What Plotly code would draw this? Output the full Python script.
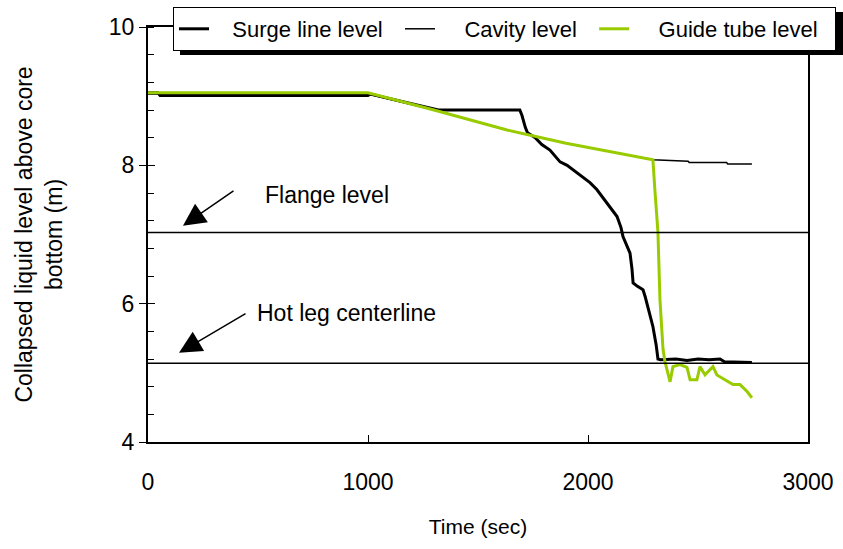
import plotly.graph_objects as go

# ---- data ----
surge_t = [0, 45, 55, 1000, 1010, 1150, 1300, 1320, 1690, 1700, 1715, 1725, 1760, 1790, 1827, 1873, 1905,
           1950, 2009, 2040, 2068, 2100, 2132, 2150, 2159, 2175, 2191, 2200, 2205, 2225, 2250, 2260, 2268,
           2280, 2295, 2310, 2318, 2330, 2400, 2450, 2500, 2550, 2600, 2620, 2650, 2745]
surge_v = [9.05, 9.05, 9.01, 9.01, 9.03, 8.93, 8.82, 8.80, 8.80, 8.72, 8.55, 8.47, 8.40, 8.30, 8.22, 8.05, 8.00,
           7.89, 7.75, 7.65, 7.53, 7.40, 7.26, 7.10, 6.97, 6.85, 6.73, 6.50, 6.30, 6.25, 6.20, 6.10, 6.01,
           5.85, 5.67, 5.40, 5.20, 5.19, 5.20, 5.18, 5.20, 5.19, 5.20, 5.16, 5.16, 5.15]

cavity_t = [0, 1000, 1300, 1632, 1900, 2177, 2295, 2455, 2460, 2630, 2635, 2745]
cavity_v = [9.03, 9.03, 8.80, 8.51, 8.32, 8.15, 8.08, 8.06, 8.04, 8.04, 8.02, 8.02]

guide_t = [0, 1000, 1300, 1632, 1900, 2177, 2295, 2305, 2318, 2327, 2341, 2350, 2373, 2386, 2418, 2450,
           2464, 2495, 2509, 2532, 2568, 2586, 2632, 2659, 2691, 2723, 2745]
guide_v = [9.05, 9.05, 8.80, 8.51, 8.32, 8.15, 8.08, 7.60, 7.03, 6.06, 5.34, 5.16, 4.87, 5.09, 5.12, 5.08,
           4.90, 4.90, 5.09, 4.97, 5.09, 4.97, 4.88, 4.83, 4.83, 4.73, 4.64]

flange_level = 7.03
hotleg_level = 5.14

x_ticks = [0, 1000, 2000, 3000]
y_ticks = [4, 6, 8, 10]

FONT = "Liberation Sans, Arial, sans-serif"
NB = "\u00a0"

fig = go.Figure()
fig.add_trace(go.Scatter(x=surge_t, y=surge_v, mode="lines", name=NB * 3 + "Surge line level" + NB * 2,
                         line=dict(color="black", width=3)))
fig.add_trace(go.Scatter(x=cavity_t, y=cavity_v, mode="lines", name=NB * 4 + "Cavity level" + NB * 2,
                         line=dict(color="black", width=1.5)))
fig.add_trace(go.Scatter(x=guide_t, y=guide_v, mode="lines", name=NB * 4 + "Guide tube level" + NB * 2,
                         line=dict(color="#99CC00", width=3)))
# invisible trace on overlay axis to carry inside major y ticks
fig.add_trace(go.Scatter(x=[0], y=[4], yaxis="y2", mode="markers", marker=dict(opacity=0),
                         showlegend=False, hoverinfo="skip"))

# reference levels
for lvl in (flange_level, hotleg_level):
    fig.add_shape(type="line", xref="paper", x0=0, x1=1, yref="y", y0=lvl, y1=lvl,
                  line=dict(color="black", width=1.5))

# legend shadow
fig.add_shape(type="rect", xref="paper", yref="paper",
              x0=(180 - 148) / 660, x1=(843 - 148) / 660,
              y0=(442 - 55) / 415, y1=(442 - 12) / 415,
              fillcolor="black", line=dict(width=0), layer="above")

fig.add_annotation(x=159, y=7.126, ax=52, ay=-36, text="", showarrow=True,
                   arrowhead=2, arrowsize=3, arrowwidth=1.5, arrowcolor="black")
fig.add_annotation(x=141, y=5.29, ax=68, ay=-40, text="", showarrow=True,
                   arrowhead=2, arrowsize=3, arrowwidth=1.5, arrowcolor="black")
fig.add_annotation(x=523, y=7.57, text="Flange level", showarrow=False, xanchor="left",
                   font=dict(size=23, color="black", family=FONT))
fig.add_annotation(x=486, y=5.87, text="Hot leg centerline", showarrow=False, xanchor="left",
                   font=dict(size=23, color="black", family=FONT))

fig.update_layout(
    width=843, height=549,
    margin=dict(l=148, r=35, t=27, b=107, autoexpand=False),
    paper_bgcolor="white", plot_bgcolor="white",
    font=dict(family=FONT, color="black", size=22),
    showlegend=True,
    legend=dict(orientation="h", x=(836 - 148) / 660, y=1 + (27 - 7) / 415,
                xanchor="right", yanchor="top",
                bgcolor="white", bordercolor="black", borderwidth=1,
                font=dict(size=22, family=FONT, color="black"),
                itemwidth=30),
    xaxis=dict(range=[0, 3000], tickvals=x_ticks, ticks="inside", ticklen=7, tickwidth=1,
               tickcolor="black", showline=True, linecolor="black", linewidth=2, mirror=True,
               showgrid=False, zeroline=False, tickfont=dict(size=23), ticklabelstandoff=18,
               title=dict(text="Time (sec)", font=dict(size=21), standoff=26)),
    yaxis=dict(range=[4, 10], tickvals=y_ticks, ticks="outside", ticklen=7, tickwidth=1,
               tickcolor="black", showline=True, linecolor="black", linewidth=2, mirror=True,
               showgrid=False, zeroline=False, tickfont=dict(size=23),
               minor=dict(dtick=0.4, tick0=4, ticks="inside", ticklen=6, tickcolor="black", showgrid=False),
               title=dict(text="Collapsed liquid level above core<br>bottom (m)",
                          font=dict(size=23), standoff=40)),
    yaxis2=dict(range=[4, 10], overlaying="y", side="left", tickvals=y_ticks, ticks="inside",
                ticklen=7, tickcolor="black", showticklabels=False, showgrid=False,
                zeroline=False, showline=False),
)

fig.write_html("out.html")
